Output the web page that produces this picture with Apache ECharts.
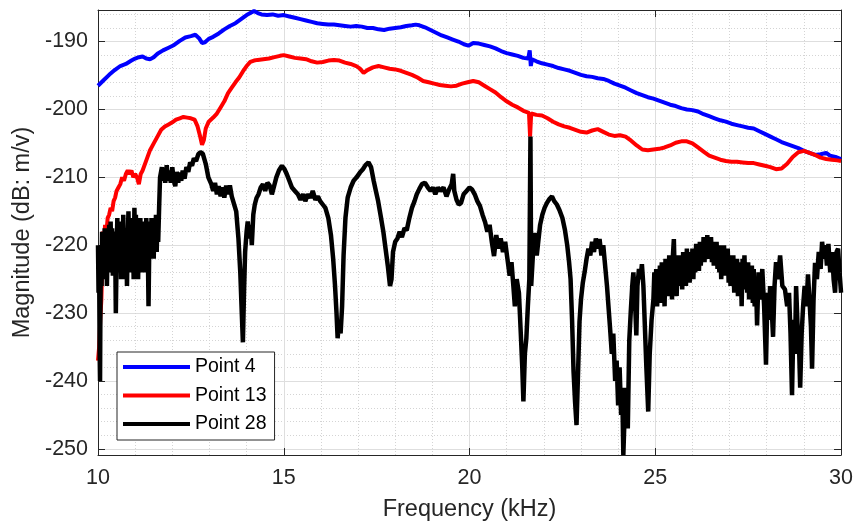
<!DOCTYPE html>
<html>
<head>
<meta charset="utf-8">
<script src="https://cdn.jsdelivr.net/npm/echarts@6/dist/echarts.min.js"></script>
<style>
html,body{margin:0;padding:0;background:#fff;}
#chart{width:856px;height:527px;}
</style>
</head>
<body>
<div id="chart"></div>
<script>
// ---- data (frequency in kHz, magnitude in dB) ----
const seriesNames = ['Point 4', 'Point 13', 'Point 28'];
const xTickLabels = ['10', '15', '20', '25', '30'];
const yTickLabels = ['-250', '-240', '-230', '-220', '-210', '-200', '-190'];

const p4Freq = [10.00,10.15,10.30,10.45,10.60,10.75,10.90,11.00,11.10,11.20,11.30,11.40,11.50,11.60,11.75,11.90,12.05,12.20,12.35,12.50,12.62,12.72,12.80,12.88,12.98,13.10,13.25,13.40,13.55,13.70,13.85,14.00,14.10,14.20,14.30,14.40,14.55,14.70,14.85,15.00,15.15,15.30,15.45,15.60,15.75,15.90,16.05,16.20,16.35,16.50,16.65,16.80,16.95,17.10,17.25,17.40,17.55,17.70,17.85,18.00,18.15,18.30,18.45,18.55,18.65,18.80,18.95,19.10,19.25,19.40,19.55,19.70,19.85,19.97,20.10,20.25,20.40,20.55,20.70,20.85,21.00,21.15,21.30,21.45,21.58,21.62,21.65,21.68,21.80,21.95,22.10,22.25,22.40,22.55,22.70,22.85,23.00,23.15,23.30,23.45,23.60,23.75,23.90,24.05,24.20,24.35,24.50,24.65,24.80,24.95,25.10,25.25,25.40,25.55,25.70,25.85,26.00,26.15,26.30,26.45,26.60,26.75,26.90,27.05,27.20,27.35,27.50,27.65,27.80,27.95,28.10,28.25,28.40,28.55,28.70,28.85,29.00,29.15,29.30,29.45,29.60,29.70,29.85,30.00];
const p4Mag = [-196.5,-195.7,-194.9,-194.2,-193.6,-193.3,-192.8,-192.5,-192.3,-192.2,-192.5,-192.6,-192.3,-191.8,-191.3,-190.9,-190.5,-189.9,-189.4,-189.2,-189.0,-189.5,-190.2,-190.1,-189.6,-189.3,-188.8,-188.2,-187.7,-187.3,-186.7,-186.1,-185.8,-185.5,-185.8,-186.0,-186.1,-186.0,-186.2,-186.1,-186.3,-186.5,-186.7,-186.9,-187.1,-187.3,-187.4,-187.5,-187.5,-187.6,-187.7,-187.8,-187.7,-187.8,-188.0,-188.0,-188.2,-188.3,-188.1,-188.0,-187.9,-187.7,-187.6,-187.5,-187.6,-187.9,-188.3,-188.7,-189.1,-189.4,-189.7,-190.0,-190.4,-190.6,-190.2,-190.3,-190.5,-190.7,-191.0,-191.4,-191.7,-191.9,-192.1,-192.4,-192.5,-191.3,-193.6,-192.6,-192.9,-193.2,-193.4,-193.6,-193.9,-194.1,-194.3,-194.6,-194.9,-195.1,-195.2,-195.4,-195.5,-195.8,-196.2,-196.5,-196.8,-197.2,-197.6,-197.9,-198.2,-198.4,-198.7,-199.0,-199.3,-199.5,-199.8,-200.0,-200.1,-200.3,-200.7,-201.0,-201.3,-201.6,-201.8,-202.1,-202.3,-202.5,-202.7,-202.8,-203.2,-203.6,-204.0,-204.4,-204.8,-205.1,-205.4,-205.7,-206.1,-206.4,-206.7,-206.6,-206.4,-206.8,-207.0,-207.3];

const p13Freq = [10.00,10.03,10.06,10.09,10.11,10.13,10.16,10.19,10.22,10.26,10.30,10.34,10.38,10.42,10.46,10.50,10.55,10.60,10.65,10.70,10.75,10.80,10.85,10.90,10.95,11.00,11.05,11.10,11.15,11.20,11.30,11.40,11.50,11.60,11.70,11.80,11.90,12.00,12.10,12.20,12.30,12.40,12.50,12.60,12.68,12.75,12.80,12.85,12.90,12.98,13.10,13.20,13.30,13.40,13.50,13.60,13.70,13.80,13.90,14.00,14.10,14.20,14.30,14.45,14.60,14.75,14.90,15.00,15.15,15.30,15.45,15.60,15.75,15.90,16.05,16.20,16.35,16.50,16.65,16.80,16.95,17.05,17.15,17.25,17.40,17.55,17.70,17.85,18.00,18.15,18.30,18.45,18.60,18.75,18.90,19.05,19.20,19.35,19.50,19.65,19.80,19.95,20.10,20.25,20.40,20.55,20.70,20.85,21.00,21.15,21.30,21.45,21.60,21.63,21.66,21.80,21.95,22.10,22.25,22.40,22.55,22.70,22.85,23.00,23.15,23.30,23.45,23.60,23.75,23.90,24.05,24.20,24.35,24.50,24.65,24.80,24.95,25.10,25.25,25.40,25.55,25.70,25.85,26.00,26.15,26.30,26.45,26.60,26.75,26.90,27.05,27.20,27.35,27.50,27.65,27.80,27.95,28.10,28.25,28.40,28.55,28.70,28.85,29.00,29.15,29.30,29.45,29.60,29.75,29.90,30.00];
const p13Mag = [-237.0,-235.0,-231.0,-228.0,-224.0,-218.0,-220.0,-217.0,-218.5,-216.0,-215.5,-214.5,-215.0,-213.5,-213.0,-212.0,-211.5,-211.0,-210.0,-210.5,-209.5,-209.0,-209.5,-209.0,-210.0,-209.5,-210.0,-211.0,-209.5,-209.0,-207.5,-206.0,-205.0,-204.0,-203.0,-202.5,-202.2,-201.9,-201.5,-201.3,-201.1,-201.2,-201.3,-201.5,-202.5,-204.0,-205.2,-204.5,-202.8,-201.8,-201.2,-200.6,-199.7,-198.8,-197.6,-196.8,-196.0,-195.3,-194.4,-193.6,-193.0,-192.8,-192.7,-192.6,-192.5,-192.3,-192.1,-192.0,-192.2,-192.4,-192.5,-192.6,-192.9,-193.1,-193.0,-192.8,-192.7,-192.8,-193.1,-193.3,-193.6,-194.0,-194.6,-194.2,-193.8,-193.6,-193.8,-194.0,-194.1,-194.3,-194.6,-194.9,-195.3,-195.8,-196.0,-196.2,-196.4,-196.5,-196.6,-196.5,-196.2,-196.0,-195.8,-196.0,-196.5,-197.0,-197.5,-198.2,-198.8,-199.3,-199.7,-200.2,-200.5,-204.0,-200.6,-200.8,-200.9,-201.3,-201.8,-202.2,-202.5,-202.7,-203.0,-203.3,-203.4,-203.1,-202.9,-203.3,-203.7,-203.9,-203.8,-204.0,-204.6,-205.3,-205.9,-206.0,-205.9,-205.8,-205.6,-205.3,-204.9,-204.7,-204.7,-205.0,-205.6,-206.2,-206.8,-207.1,-207.4,-207.6,-207.7,-207.7,-207.8,-207.9,-207.9,-208.1,-208.3,-208.5,-208.8,-208.7,-208.0,-207.0,-206.3,-206.1,-206.4,-206.7,-207.1,-207.3,-207.4,-207.5,-207.6];

const p28Freq = [10.000,10.015,10.030,10.045,10.055,10.065,10.080,10.095,10.110,10.125,10.140,10.16,10.18,10.20,10.22,10.24,10.26,10.28,10.30,10.32,10.34,10.36,10.38,10.40,10.42,10.44,10.46,10.48,10.50,10.52,10.54,10.56,10.58,10.60,10.62,10.64,10.66,10.68,10.70,10.72,10.74,10.76,10.78,10.80,10.82,10.84,10.86,10.88,10.90,10.92,10.94,10.96,10.98,11.00,11.02,11.04,11.06,11.08,11.10,11.12,11.14,11.16,11.18,11.20,11.22,11.24,11.26,11.28,11.30,11.32,11.34,11.36,11.38,11.40,11.42,11.44,11.46,11.48,11.50,11.52,11.54,11.56,11.58,11.60,11.62,11.645,11.67,
11.72,11.75,11.78,11.81,11.85,11.88,11.92,11.96,12.00,12.04,12.08,12.12,12.16,12.20,12.24,12.28,12.33,12.38,12.43,12.48,12.53,12.58,12.64,12.70,12.76,12.82,12.90,12.97,13.05,13.10,13.15,13.20,13.25,13.30,13.35,13.40,13.45,13.50,13.55,13.60,13.65,
13.72,13.78,13.83,13.87,13.90,13.93,13.96,14.00,14.03,14.07,14.11,14.14,14.18,14.22,14.27,14.32,14.38,14.44,14.50,14.56,14.62,14.68,14.73,14.80,14.87,14.95,15.02,15.08,15.15,15.22,15.30,15.38,15.45,15.52,15.58,15.65,15.72,15.78,15.85,15.92,15.98,16.05,16.12,16.20,16.27,16.33,16.38,16.42,16.45,16.49,16.53,16.57,16.61,16.66,16.72,16.80,16.88,16.96,17.05,17.13,17.20,17.28,17.35,17.42,17.48,17.54,17.61,17.68,17.74,17.80,17.86,17.90,17.94,18.00,18.06,18.12,18.18,18.25,18.31,18.38,18.45,18.52,18.58,18.65,18.72,18.80,18.88,18.95,19.02,19.08,19.15,19.22,19.30,19.38,19.45,19.52,19.56,19.59,19.65,19.71,19.77,19.84,19.92,20.00,20.07,20.14,20.21,20.28,20.35,20.42,20.48,20.54,20.60,20.66,20.72,20.78,20.84,20.90,20.96,21.02,21.08,21.13,21.18,21.22,21.27,21.33,21.38,21.42,21.45,21.49,21.53,21.57,21.61,21.64,21.66,21.69,21.73,21.77,21.81,21.85,21.90,21.96,22.02,22.08,22.15,22.22,22.28,22.35,22.42,22.50,22.57,22.63,22.68,22.72,22.76,22.80,22.84,22.88,22.92,22.96,23.00,23.05,23.10,23.15,23.20,23.25,23.30,23.35,23.40,23.45,23.50,23.55,23.60,23.65,23.70,23.74,23.78,23.83,23.87,23.92,23.96,24.00,24.04,24.08,24.11,24.14,24.18,24.22,24.26,24.30,24.34,24.38,24.41,24.45,24.49,24.52,24.56,24.60,24.64,24.68,24.72,24.76,24.81,24.85,24.90,
24.950,24.975,25.000,25.025,25.050,25.075,25.100,25.125,25.150,25.175,25.200,25.225,25.250,25.275,25.300,25.325,25.350,25.375,25.400,25.425,25.450,25.475,25.500,25.525,25.550,25.575,25.600,25.625,25.650,25.675,25.700,25.725,25.750,25.775,25.800,25.825,25.850,25.875,25.900,25.925,25.950,25.975,26.000,26.025,26.050,26.075,26.100,26.125,26.150,26.175,26.200,26.225,26.250,26.275,26.300,26.325,26.350,26.375,26.400,26.425,26.450,26.475,26.500,26.525,26.550,26.575,26.600,26.625,26.650,26.675,26.700,26.725,26.750,26.775,26.800,26.825,26.850,26.875,26.900,26.925,26.950,26.975,27.000,27.025,27.050,27.075,27.100,27.125,27.150,27.175,27.200,27.225,27.250,27.275,27.300,27.325,27.350,27.375,27.400,27.425,27.450,27.475,27.500,27.525,27.550,27.575,27.600,27.625,27.650,27.675,
27.71,27.74,27.78,27.83,27.88,27.93,27.98,28.02,28.06,28.09,28.13,28.17,28.21,28.25,28.30,28.36,28.42,28.49,28.55,28.60,28.64,28.68,28.72,28.76,28.79,28.83,28.87,28.90,28.94,28.98,29.02,29.07,29.11,29.15,29.19,29.22,29.26,29.30,29.35,29.40,29.45,29.49,29.54,29.58,29.62,29.66,29.71,29.76,29.80,29.84,29.88,29.92,29.96,30.00];
const p28Mag = [-220,-227,-222,-236,-240,-229,-221,-226,-218,-224,-219,-225,-217.5,-223,-218,-226,-219,-224,-217,-222.5,-216.5,-223,-217.5,-224.5,-218,-223,-219,-230,-222,-216,-223,-217,-224,-216.5,-225,-218,-223.5,-215.5,-223,-217.5,-225,-218,-226,-219,-215,-222,-216,-224,-216.5,-223,-218,-225,-214.5,-221,-215.5,-223,-216,-225,-217,-222.5,-216,-224,-216.5,-222,-217,-224,-218,-222,-216,-223,-220,-229,-220,-216.5,-222,-216,-221.5,-217,-222,-216.5,-220.5,-215.5,-221,-216,-219.5,-214.5,-210,
-208.5,-210.5,-208.8,-210.8,-208.2,-210.5,-209,-210.8,-208.5,-210.5,-211.3,-209.2,-210.8,-209.3,-210.5,-209,-210.2,-208.5,-209.2,-207.8,-208.3,-207.2,-207.6,-206.6,-206.3,-206.5,-208,-210,-211,-212,-210.8,-212.5,-211.3,-212.8,-211.5,-213,-211.2,-212.5,-211.2,-212.8,-213,
-215,-219,-224,-230,-234.3,-227,-221,-218,-216.5,-219,-217,-220,-215.5,-214,-213,-212.5,-211.5,-211,-212,-210.8,-211.2,-212.5,-211.5,-210,-209,-208.3,-208.8,-209.5,-210.5,-211.5,-212,-212.5,-213.3,-212.5,-213.5,-212.5,-213,-212,-213.3,-212.8,-213.5,-214,-214.5,-216,-218.5,-222,-226,-230,-233.7,-231,-233,-229,-221.5,-216,-213,-211.5,-210.5,-210,-209.3,-208.8,-208.2,-207.8,-208.5,-210.5,-212,-213.5,-215.7,-218,-220.5,-223,-226,-225,-221,-219.5,-219,-218,-218.8,-217.5,-217.8,-216,-214.5,-213.5,-212.5,-211.7,-211,-210.8,-211.5,-212,-211.5,-212.5,-211.5,-212,-211.5,-212.8,-211.8,-211,-209.5,-212,-213.3,-214,-213.8,-212.5,-212,-211.5,-211.8,-212.5,-213.5,-214.2,-215.5,-216.6,-218,-217,-219.5,-221.6,-218.5,-220.5,-219,-221,-219.5,-222,-224.5,-222.5,-226,-229,-225,-227,-233,-238,-243,-236,-233.7,-229,-225,-204,-226,-223,-219,-218.2,-221.5,-219.5,-217,-215.5,-214.5,-213.8,-213.2,-212.8,-213.5,-214,-214.8,-216,-217.8,-220,-222.5,-225,-231,-238.6,-243,-246.5,-239,-231.3,-228,-225.5,-223.9,-222,-220.5,-221.5,-219.5,-221,-219,-220.5,-219.1,-221.5,-220,-223,-226,-229,-232,-236,-233,-240,-237,-243.6,-238,-245,-241,-250.9,-244,-241,-247,-234,-229.8,-226,-224,-227.5,-233.3,-226,-223.5,-225,-222.8,-226,-232,-238,-244.5,-236,-231,
-228,-224,-227.5,-223.5,-229,-224.5,-227,-223,-228.5,-222.5,-226.5,-223.5,-229,-222,-226,-222.8,-227.5,-221.5,-226,-222.5,-228,-221.5,-219.1,-225,-221.5,-227.5,-222.5,-226,-221.5,-225.5,-222,-226.5,-221,-225,-221.5,-226,-220.5,-224.5,-221,-225.5,-221.5,-224.5,-220.5,-225,-221,-224,-219.8,-223.5,-220.5,-223.8,-219.5,-223,-220,-222.5,-218.8,-222.5,-219,-221.8,-218.5,-222,-219.5,-221.5,-218.8,-222.5,-219.5,-223,-220,-222.5,-219.5,-223.5,-220.5,-224,-220,-225,-221,-223.5,-220,-224.5,-221,-223,-220.5,-225.5,-221.5,-226,-222,-224.5,-221.5,-227,-222.5,-225.5,-222,-227.5,-223,-226,-222.5,-229,-222,-226.5,-221.5,-226.5,-222.5,-227,-222.5,-228,-223,-226.5,-223,-228.5,-223.5,-229,
-225,-231.8,-224,-228,-223.5,-229,-237.6,-227,-231,-226,-229,-233.5,-226,-222.5,-225,-221.5,-226,-226.5,-229,-227,-233,-242.1,-231,-236,-226,-232,-235,-241,-233,-228.9,-226,-229,-224.3,-228,-232,-238.2,-228,-222.6,-225,-221,-223.5,-219.5,-222,-220,-223,-219.8,-224,-221,-225,-227,-221,-220.5,-224,-227];

const seriesColors = ['#0000ff', '#ff0000', '#000000'];

function zip(xs, ys) { return xs.map((x, i) => [x, ys[i]]); }

const chart = echarts.init(document.getElementById('chart'), null, { renderer: 'canvas' });
const FONT = '"Liberation Sans", Arial, Helvetica, sans-serif';
const INK = '#262626';

const xCommon = {
  type: 'value', min: 10, max: 30, interval: 5,
  axisLine: { show: true, onZero: false, lineStyle: { color: INK, width: 1 } },
  axisTick: { show: true, inside: true, length: 7, lineStyle: { color: INK } }
};
const yCommon = {
  type: 'value', min: -250.9, max: -185.35, minInterval: 10, maxInterval: 10,
  axisLine: { show: true, onZero: false, lineStyle: { color: INK, width: 1 } },
  axisTick: { show: true, inside: true, length: 7, lineStyle: { color: INK } }
};

const option = {
  animation: false,
  backgroundColor: '#ffffff',
  textStyle: { fontFamily: FONT },
  grid: { left: 98, right: 14, top: 10, bottom: 70, containLabel: false },
  legend: {
    data: seriesNames,
    orient: 'vertical',
    left: 117, top: 352,
    icon: 'rect',
    itemWidth: 67, itemHeight: 4, itemGap: 8.5,
    padding: [5, 8, 6, 6],
    backgroundColor: '#ffffff',
    borderColor: INK, borderWidth: 1,
    textStyle: { fontFamily: FONT, fontSize: 19.5, color: '#000000', padding: [0, 0, 0, 0] }
  },
  xAxis: [
    Object.assign({}, xCommon, {
      position: 'bottom',
      name: 'Frequency (kHz)', nameLocation: 'middle', nameGap: 43,
      nameTextStyle: { fontFamily: FONT, fontSize: 23.5, color: INK },
      axisLabel: { show: true, margin: 12, fontFamily: FONT, fontSize: 21.5, color: INK,
        formatter: function (v) { const i = xTickLabels.indexOf(String(v)); return i >= 0 ? xTickLabels[i] : ''; } },
      splitLine: { show: true, lineStyle: { color: '#dedede', width: 1, type: 'solid' } },
      minorTick: { show: false, splitNumber: 5 },
      minorSplitLine: { show: true, lineStyle: { color: '#d4d4d4', width: 1, type: [1, 2] } }
    }),
    Object.assign({}, xCommon, {
      position: 'top',
      axisLabel: { show: false },
      splitLine: { show: false }
    })
  ],
  yAxis: [
    Object.assign({}, yCommon, {
      position: 'left',
      name: 'Magnitude (dB: m/v)', nameLocation: 'middle', nameGap: 60,
      nameTextStyle: { fontFamily: FONT, fontSize: 23.5, color: INK },
      axisLabel: { show: true, margin: 10, fontFamily: FONT, fontSize: 21.5, color: INK,
        showMinLabel: false, showMaxLabel: false,
        formatter: function (v) { const i = yTickLabels.indexOf(String(v)); return i >= 0 ? yTickLabels[i] : ''; } },
      splitLine: { show: true, lineStyle: { color: '#dedede', width: 1, type: 'solid' } },
      minorTick: { show: false, splitNumber: 5 },
      minorSplitLine: { show: true, lineStyle: { color: '#d4d4d4', width: 1, type: [1, 2] } }
    }),
    Object.assign({}, yCommon, {
      position: 'right',
      axisLabel: { show: false },
      splitLine: { show: false }
    })
  ],
  series: [
    { name: seriesNames[0], type: 'line', data: zip(p4Freq, p4Mag), showSymbol: false, symbol: 'none',
      lineStyle: { color: seriesColors[0], width: 4 }, itemStyle: { color: seriesColors[0] } },
    { name: seriesNames[1], type: 'line', data: zip(p13Freq, p13Mag), showSymbol: false, symbol: 'none',
      lineStyle: { color: seriesColors[1], width: 4 }, itemStyle: { color: seriesColors[1] } },
    { name: seriesNames[2], type: 'line', data: zip(p28Freq, p28Mag), showSymbol: false, symbol: 'none',
      lineStyle: { color: seriesColors[2], width: 4.5 }, itemStyle: { color: seriesColors[2] } }
  ]
};
chart.setOption(option);
</script>
</body>
</html>
